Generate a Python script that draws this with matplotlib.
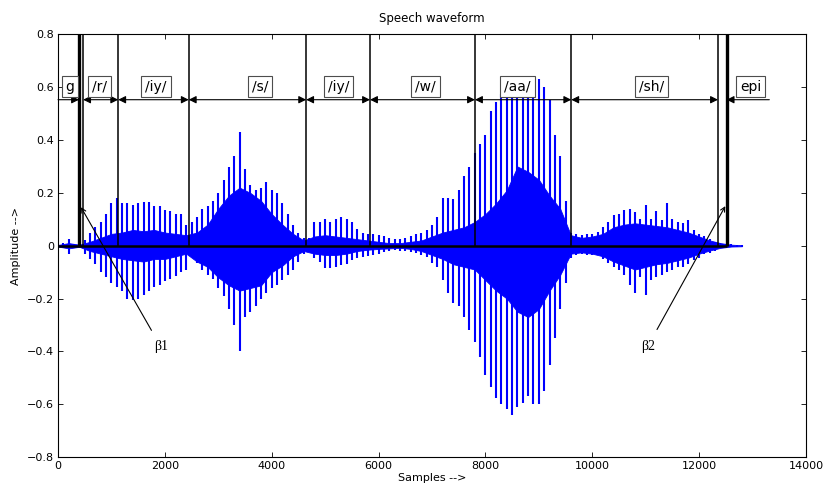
import numpy as np
import matplotlib
matplotlib.use("Agg")
import matplotlib.pyplot as plt

# ---------------- data ----------------
# waveform spike envelope, one reading every 100 samples (0 .. 12800)
spike_start = 0
spike_step = 100
spike_hi = [
    0.005, 0.010, 0.026, 0.005, 0.005, 0.020, 0.050, 0.070, 0.090, 0.120,
    0.160, 0.180, 0.160, 0.160, 0.155, 0.160, 0.165, 0.165, 0.150, 0.150,
    0.135, 0.130, 0.120, 0.120, 0.080, 0.090, 0.110, 0.140, 0.150, 0.170,
    0.200, 0.250, 0.300, 0.340, 0.430, 0.290, 0.230, 0.210, 0.220, 0.240,
    0.210, 0.200, 0.160, 0.120, 0.080, 0.050, 0.030, 0.030, 0.090, 0.090,
    0.100, 0.090, 0.100, 0.110, 0.100, 0.090, 0.065, 0.050, 0.045, 0.045,
    0.040, 0.036, 0.030, 0.025, 0.025, 0.030, 0.035, 0.045, 0.050, 0.060,
    0.080, 0.110, 0.180, 0.180, 0.178, 0.210, 0.265, 0.300, 0.350, 0.385,
    0.420, 0.510, 0.545, 0.575, 0.590, 0.600, 0.605, 0.615, 0.630, 0.637,
    0.630, 0.600, 0.550, 0.420, 0.340, 0.170, 0.050, 0.045, 0.040, 0.046,
    0.045, 0.052, 0.070, 0.090, 0.115, 0.120, 0.134, 0.140, 0.128, 0.100,
    0.153, 0.100, 0.130, 0.096, 0.160, 0.100, 0.090, 0.085, 0.096, 0.058,
    0.046, 0.035, 0.026, 0.016, 0.012, 0.008, 0.005, 0.004, 0.003,
]
spike_lo = [
    -0.005, -0.010, -0.030, -0.005, -0.010, -0.030, -0.050, -0.070, -0.100, -0.120,
    -0.140, -0.155, -0.170, -0.200, -0.205, -0.200, -0.185, -0.170, -0.155, -0.150,
    -0.135, -0.125, -0.115, -0.100, -0.090, -0.040, -0.065, -0.090, -0.110, -0.125,
    -0.160, -0.190, -0.240, -0.300, -0.400, -0.270, -0.250, -0.230, -0.200, -0.180,
    -0.160, -0.150, -0.130, -0.110, -0.090, -0.060, -0.030, -0.025, -0.045, -0.060,
    -0.085, -0.086, -0.080, -0.074, -0.070, -0.055, -0.045, -0.042, -0.040, -0.036,
    -0.030, -0.025, -0.020, -0.018, -0.020, -0.020, -0.022, -0.028, -0.035, -0.042,
    -0.064, -0.082, -0.130, -0.180, -0.218, -0.230, -0.270, -0.320, -0.365, -0.420,
    -0.490, -0.535, -0.575, -0.600, -0.620, -0.640, -0.610, -0.596, -0.570, -0.600,
    -0.600, -0.550, -0.450, -0.350, -0.240, -0.140, -0.045, -0.035, -0.030, -0.036,
    -0.036, -0.030, -0.050, -0.065, -0.080, -0.090, -0.110, -0.150, -0.180, -0.120,
    -0.187, -0.130, -0.120, -0.110, -0.100, -0.090, -0.080, -0.080, -0.070, -0.055,
    -0.045, -0.033, -0.028, -0.020, -0.009, -0.005, -0.004, -0.003, -0.003,
]
# dense core of the waveform, one reading every 200 samples (0 .. 12800)
core_step = 200
core_hi = [0.003, 0.010, 0.004, 0.015, 0.030, 0.045, 0.050, 0.060, 0.055, 0.060,
           0.050, 0.045, 0.040, 0.050, 0.080, 0.140, 0.190, 0.220, 0.200, 0.170,
           0.120, 0.080, 0.045, 0.020, 0.035, 0.040, 0.035, 0.030, 0.025, 0.020,
           0.015, 0.010, 0.010, 0.015, 0.020, 0.035, 0.050, 0.060, 0.070, 0.090,
           0.120, 0.160, 0.210, 0.300, 0.280, 0.250, 0.190, 0.140, 0.040, 0.030,
           0.035, 0.045, 0.070, 0.080, 0.085, 0.080, 0.075, 0.070, 0.060, 0.050,
           0.035, 0.020, 0.010, 0.004, 0.002]
core_lo = [-0.003, -0.010, -0.004, -0.020, -0.030, -0.040, -0.050, -0.055, -0.060, -0.050,
           -0.050, -0.040, -0.030, -0.060, -0.080, -0.120, -0.150, -0.170, -0.160, -0.150,
           -0.100, -0.075, -0.040, -0.020, -0.030, -0.035, -0.035, -0.030, -0.020, -0.015,
           -0.012, -0.010, -0.008, -0.012, -0.020, -0.035, -0.050, -0.070, -0.080, -0.090,
           -0.130, -0.170, -0.200, -0.250, -0.270, -0.240, -0.170, -0.110, -0.030, -0.025,
           -0.030, -0.040, -0.060, -0.075, -0.090, -0.080, -0.070, -0.065, -0.055, -0.045,
           -0.030, -0.018, -0.008, -0.003, -0.002]

# segment boundaries (samples)
thin_bounds = [470, 1127, 2447, 4645, 5840, 7805, 9607, 12353]
thick_bounds = [393, 12515]
# phoneme labels, their box centres and arrow spans
phonemes = ["g", "/r/", "/iy/", "/s/", "/iy/", "/w/", "/aa/", "/sh/", "epi"]
label_x = [224, 776, 1833, 3787, 5255, 6882, 8602, 11108, 12968]
arrow_from = [0, 470, 1127, 2447, 4645, 5840, 7805, 9607, 12515]
arrow_to = [393, 1127, 2447, 4645, 5840, 7805, 9607, 12353, 13314]
arrow_styles = ["-|>", "<|-|>", "<|-|>", "<|-|>", "<|-|>", "<|-|>", "<|-|>", "<|-|>", "<|-"]
# beta annotations
beta_text = ["\u03b21", "\u03b22"]
beta_text_xy = [(1926, -0.383), (11040, -0.38)]
beta_head_xy = [(430, 0.146), (12490, 0.15)]

xticks = [0, 2000, 4000, 6000, 8000, 10000, 12000, 14000]
yticks = [-0.8, -0.6, -0.4, -0.2, 0, 0.2, 0.4, 0.6, 0.8]

# ---------------- figure ----------------
plt.rcParams["font.family"] = ["DejaVu Sans"]
fig = plt.figure(figsize=(8.23, 4.87), dpi=100)
ax = fig.add_axes([0.0705, 0.0616, 0.9088, 0.8676])

sx = spike_start + spike_step * np.arange(len(spike_hi))
cx = spike_start + core_step * np.arange(len(core_hi))

ax.fill_between(cx, core_lo, core_hi, color="#0000ff", lw=0.6, edgecolor="#0000ff", zorder=2)
ax.vlines(sx, spike_lo, spike_hi, colors="#0000ff", lw=1.5, zorder=2)

# segmentation lines
ax.plot([0, thick_bounds[-1]], [0, 0], color="k", lw=1.8, zorder=3,
        solid_capstyle="butt")
ax.vlines(thin_bounds, 0, 0.8, colors="k", lw=1.1, zorder=3)
ax.vlines(thick_bounds, 0, 0.8, colors="k", lw=2.4, zorder=3)

# arrows and labels
y_arrow = 0.553
for lab, lx, a, b, st in zip(phonemes, label_x, arrow_from, arrow_to, arrow_styles):
    ax.annotate("", xy=(b, y_arrow), xytext=(a, y_arrow),
                arrowprops=dict(arrowstyle=st, color="k", lw=0.8,
                                shrinkA=0, shrinkB=0, mutation_scale=11),
                zorder=4, annotation_clip=False)
    ax.text(lx, 0.603, lab, ha="center", va="center", fontsize=10, zorder=5,
            bbox=dict(boxstyle="square,pad=0.28", fc="white", ec="0.3", lw=0.8))

for t, txy, hxy in zip(beta_text, beta_text_xy, beta_head_xy):
    ax.annotate(t, xy=hxy, xytext=txy, ha="center", va="center",
                fontsize=10, family=["Liberation Serif", "DejaVu Serif"],
                arrowprops=dict(arrowstyle="->", color="k", lw=0.8,
                                shrinkA=6, shrinkB=0, mutation_scale=8),
                zorder=5)

ax.set_xlim(0, 14000)
ax.set_ylim(-0.8, 0.8)
ax.set_xticks(xticks)
ax.set_yticks(yticks)
ax.set_yticklabels(["\u22120.8", "\u22120.6", "\u22120.4", "\u22120.2", "0",
                    "0.2", "0.4", "0.6", "0.8"])
ax.tick_params(direction="in", top=True, right=True, length=3.5, width=0.6,
               labelsize=8, pad=3)
for s in ax.spines.values():
    s.set_linewidth(0.8)

ax.set_title("Speech waveform", fontsize=8.5, pad=9)
ax.set_xlabel("Samples -->", fontsize=8, labelpad=1)
ax.set_ylabel("Amplitude -->", fontsize=8, labelpad=4)

fig.savefig("out.png", dpi=100)
